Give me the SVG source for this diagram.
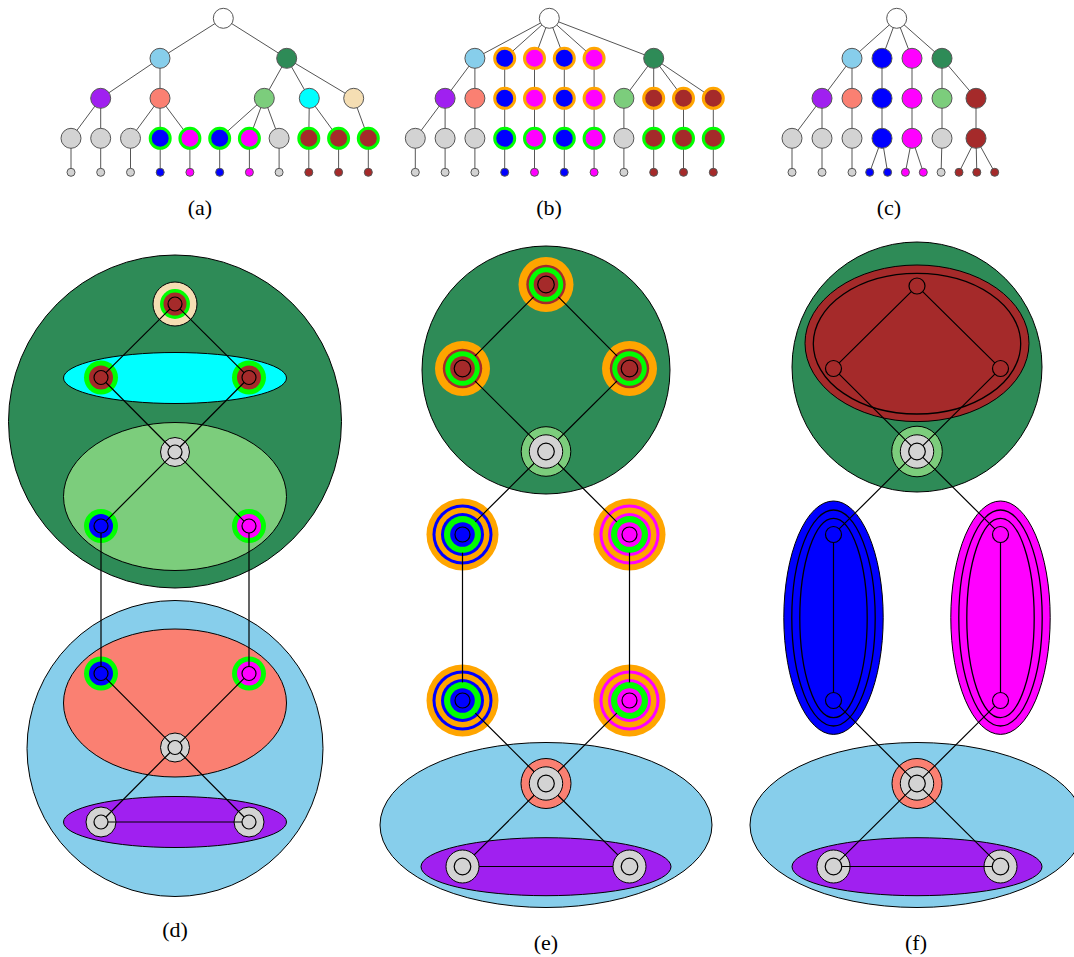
<svg xmlns="http://www.w3.org/2000/svg" width="1074" height="957" viewBox="0 0 1074 957">
<style>
.te{stroke:#555;stroke-width:1;fill:none}
.tn{stroke:#555;stroke-width:1}
.rg{stroke:#00ff00;stroke-width:3}
.ro{stroke:#ffa500;stroke-width:3}
.lb{font-family:"Liberation Serif","DejaVu Serif",serif;font-size:22px;text-anchor:middle;fill:#000}
.ed{stroke:#000;stroke-width:1.2;fill:none}
.ol{stroke:#000;stroke-width:1}
.in{stroke:#000;stroke-width:1.2}
.nf{fill:none;stroke-width:1.3}
</style>
<rect width="1074" height="957" fill="#fff"/>

<!-- ===== Tree (a) ===== -->
<g id="tree-a">
<g id="a-edges">
<path class="te" d="M223.3 18.3L160 58.3M223.3 18.3L286.7 58.3M160 58.3L100.7 98.3M160 58.3L160 98.3M100.7 98.3L71 138.3M100.7 98.3L100.7 138.3M160 98.3L130.5 138.3M160 98.3L160.2 138.3M160 98.3L189.9 138.3M286.7 58.3L264.3 98.3M286.7 58.3L309.3 98.3M286.7 58.3L353.7 98.3M264.3 98.3L219.7 138.3M264.3 98.3L249.4 138.3M264.3 98.3L279.1 138.3M309.3 98.3L308.8 138.3M309.3 98.3L338.6 138.3M353.7 98.3L368.3 138.3M71 138.3V172.3M100.7 138.3V172.3M130.5 138.3V172.3M160.2 138.3V172.3M189.9 138.3V172.3M219.7 138.3V172.3M249.4 138.3V172.3M279.1 138.3V172.3M308.8 138.3V172.3M338.6 138.3V172.3M368.3 138.3V172.3"/>
</g>
<g id="a-root"><circle class="tn" cx="223.3" cy="18.3" r="10" fill="#fff"/></g>
<g id="a-sky"><circle class="tn" cx="160" cy="58.3" r="10" fill="#87ceeb"/></g>
<g id="a-dg"><circle class="tn" cx="286.7" cy="58.3" r="10" fill="#2e8b57"/></g>
<g id="a-purple"><circle class="tn" cx="100.7" cy="98.3" r="10" fill="#a020f0"/></g>
<g id="a-salmon"><circle class="tn" cx="160" cy="98.3" r="10" fill="#fa8072"/></g>
<g id="a-lgreen"><circle class="tn" cx="264.3" cy="98.3" r="10" fill="#7ccd7c"/></g>
<g id="a-cyan"><circle class="tn" cx="309.3" cy="98.3" r="10" fill="#00ffff"/></g>
<g id="a-wheat"><circle class="tn" cx="353.7" cy="98.3" r="10" fill="#f5deb3"/></g>
<g id="a-l3-0"><circle class="tn" cx="71" cy="138.3" r="10" fill="#d3d3d3"/></g>
<g id="a-l3-1"><circle class="tn" cx="100.7" cy="138.3" r="10" fill="#d3d3d3"/></g>
<g id="a-l3-2"><circle class="tn" cx="130.5" cy="138.3" r="10" fill="#d3d3d3"/></g>
<g id="a-l3-3"><circle class="rg" cx="160.2" cy="138.3" r="10" fill="#0000ff"/></g>
<g id="a-l3-4"><circle class="rg" cx="189.9" cy="138.3" r="10" fill="#ff00ff"/></g>
<g id="a-l3-5"><circle class="rg" cx="219.7" cy="138.3" r="10" fill="#0000ff"/></g>
<g id="a-l3-6"><circle class="rg" cx="249.4" cy="138.3" r="10" fill="#ff00ff"/></g>
<g id="a-l3-7"><circle class="tn" cx="279.1" cy="138.3" r="10" fill="#d3d3d3"/></g>
<g id="a-l3-8"><circle class="rg" cx="308.8" cy="138.3" r="10" fill="#a52a2a"/></g>
<g id="a-l3-9"><circle class="rg" cx="338.6" cy="138.3" r="10" fill="#a52a2a"/></g>
<g id="a-l3-10"><circle class="rg" cx="368.3" cy="138.3" r="10" fill="#a52a2a"/></g>
<g id="a-l4-0"><circle class="tn" cx="71" cy="172.3" r="4" fill="#d3d3d3"/></g>
<g id="a-l4-1"><circle class="tn" cx="100.7" cy="172.3" r="4" fill="#d3d3d3"/></g>
<g id="a-l4-2"><circle class="tn" cx="130.5" cy="172.3" r="4" fill="#d3d3d3"/></g>
<g id="a-l4-3"><circle class="tn" cx="160.2" cy="172.3" r="4" fill="#0000ff"/></g>
<g id="a-l4-4"><circle class="tn" cx="189.9" cy="172.3" r="4" fill="#ff00ff"/></g>
<g id="a-l4-5"><circle class="tn" cx="219.7" cy="172.3" r="4" fill="#0000ff"/></g>
<g id="a-l4-6"><circle class="tn" cx="249.4" cy="172.3" r="4" fill="#ff00ff"/></g>
<g id="a-l4-7"><circle class="tn" cx="279.1" cy="172.3" r="4" fill="#d3d3d3"/></g>
<g id="a-l4-8"><circle class="tn" cx="308.8" cy="172.3" r="4" fill="#a52a2a"/></g>
<g id="a-l4-9"><circle class="tn" cx="338.6" cy="172.3" r="4" fill="#a52a2a"/></g>
<g id="a-l4-10"><circle class="tn" cx="368.3" cy="172.3" r="4" fill="#a52a2a"/></g>
</g>
<text class="lb" x="200" y="215">(a)</text>

<!-- ===== Tree (b) ===== -->
<g id="tree-b">
<g id="b-edges">
<path class="te" d="M549.3 18.3L474.9 58.3M549.3 18.3L504.7 58.3M549.3 18.3L534.5 58.3M549.3 18.3L564.3 58.3M549.3 18.3L594.1 58.3M549.3 18.3L653.7 58.3M474.9 58.3L445.1 98.3M474.9 58.3L474.9 98.3M445.1 98.3L415.3 138.3M445.1 98.3L445.1 138.3M474.9 98.3L474.9 138.3M504.7 58.3V172.3M534.5 58.3V172.3M564.3 58.3V172.3M594.1 58.3V172.3M653.7 58.3L623.9 98.3M653.7 58.3L653.7 98.3M653.7 58.3L683.5 98.3M653.7 58.3L713.3 98.3M623.9 98.3V138.3M653.7 98.3V138.3M683.5 98.3V138.3M713.3 98.3V138.3M415.3 138.3V172.3M445.1 138.3V172.3M474.9 138.3V172.3M623.9 138.3V172.3M653.7 138.3V172.3M683.5 138.3V172.3M713.3 138.3V172.3"/>
</g>
<g id="b-root"><circle class="tn" cx="549.3" cy="18.3" r="10" fill="#fff"/></g>
<g id="b-sky"><circle class="tn" cx="474.9" cy="58.3" r="10" fill="#87ceeb"/></g>
<g id="b-l1-1"><circle class="ro" cx="504.7" cy="58.3" r="10" fill="#0000ff"/></g>
<g id="b-l1-2"><circle class="ro" cx="534.5" cy="58.3" r="10" fill="#ff00ff"/></g>
<g id="b-l1-3"><circle class="ro" cx="564.3" cy="58.3" r="10" fill="#0000ff"/></g>
<g id="b-l1-4"><circle class="ro" cx="594.1" cy="58.3" r="10" fill="#ff00ff"/></g>
<g id="b-dg"><circle class="tn" cx="653.7" cy="58.3" r="10" fill="#2e8b57"/></g>
<g id="b-purple"><circle class="tn" cx="445.1" cy="98.3" r="10" fill="#a020f0"/></g>
<g id="b-salmon"><circle class="tn" cx="474.9" cy="98.3" r="10" fill="#fa8072"/></g>
<g id="b-l2-2"><circle class="ro" cx="504.7" cy="98.3" r="10" fill="#0000ff"/></g>
<g id="b-l2-3"><circle class="ro" cx="534.5" cy="98.3" r="10" fill="#ff00ff"/></g>
<g id="b-l2-4"><circle class="ro" cx="564.3" cy="98.3" r="10" fill="#0000ff"/></g>
<g id="b-l2-5"><circle class="ro" cx="594.1" cy="98.3" r="10" fill="#ff00ff"/></g>
<g id="b-lgreen"><circle class="tn" cx="623.9" cy="98.3" r="10" fill="#7ccd7c"/></g>
<g id="b-l2-7"><circle class="ro" cx="653.7" cy="98.3" r="10" fill="#a52a2a"/></g>
<g id="b-l2-8"><circle class="ro" cx="683.5" cy="98.3" r="10" fill="#a52a2a"/></g>
<g id="b-l2-9"><circle class="ro" cx="713.3" cy="98.3" r="10" fill="#a52a2a"/></g>
<g id="b-l3-0"><circle class="tn" cx="415.3" cy="138.3" r="10" fill="#d3d3d3"/></g>
<g id="b-l3-1"><circle class="tn" cx="445.1" cy="138.3" r="10" fill="#d3d3d3"/></g>
<g id="b-l3-2"><circle class="tn" cx="474.9" cy="138.3" r="10" fill="#d3d3d3"/></g>
<g id="b-l3-3"><circle class="rg" cx="504.7" cy="138.3" r="10" fill="#0000ff"/></g>
<g id="b-l3-4"><circle class="rg" cx="534.5" cy="138.3" r="10" fill="#ff00ff"/></g>
<g id="b-l3-5"><circle class="rg" cx="564.3" cy="138.3" r="10" fill="#0000ff"/></g>
<g id="b-l3-6"><circle class="rg" cx="594.1" cy="138.3" r="10" fill="#ff00ff"/></g>
<g id="b-l3-7"><circle class="tn" cx="623.9" cy="138.3" r="10" fill="#d3d3d3"/></g>
<g id="b-l3-8"><circle class="rg" cx="653.7" cy="138.3" r="10" fill="#a52a2a"/></g>
<g id="b-l3-9"><circle class="rg" cx="683.5" cy="138.3" r="10" fill="#a52a2a"/></g>
<g id="b-l3-10"><circle class="rg" cx="713.3" cy="138.3" r="10" fill="#a52a2a"/></g>
<g id="b-l4-0"><circle class="tn" cx="415.3" cy="172.3" r="4" fill="#d3d3d3"/></g>
<g id="b-l4-1"><circle class="tn" cx="445.1" cy="172.3" r="4" fill="#d3d3d3"/></g>
<g id="b-l4-2"><circle class="tn" cx="474.9" cy="172.3" r="4" fill="#d3d3d3"/></g>
<g id="b-l4-3"><circle class="tn" cx="504.7" cy="172.3" r="4" fill="#0000ff"/></g>
<g id="b-l4-4"><circle class="tn" cx="534.5" cy="172.3" r="4" fill="#ff00ff"/></g>
<g id="b-l4-5"><circle class="tn" cx="564.3" cy="172.3" r="4" fill="#0000ff"/></g>
<g id="b-l4-6"><circle class="tn" cx="594.1" cy="172.3" r="4" fill="#ff00ff"/></g>
<g id="b-l4-7"><circle class="tn" cx="623.9" cy="172.3" r="4" fill="#d3d3d3"/></g>
<g id="b-l4-8"><circle class="tn" cx="653.7" cy="172.3" r="4" fill="#a52a2a"/></g>
<g id="b-l4-9"><circle class="tn" cx="683.5" cy="172.3" r="4" fill="#a52a2a"/></g>
<g id="b-l4-10"><circle class="tn" cx="713.3" cy="172.3" r="4" fill="#a52a2a"/></g>
</g>
<text class="lb" x="549" y="215">(b)</text>

<!-- ===== Tree (c) ===== -->
<g id="tree-c">
<g id="c-edges">
<path class="te" d="M896.7 18.3L852 58.3M896.7 18.3L882 58.3M896.7 18.3L912 58.3M896.7 18.3L942 58.3M852 58.3L822 98.3M852 58.3L852 98.3M822 98.3L792 138.3M822 98.3L822 138.3M852 98.3L852 138.3M882 58.3V138.3M912 58.3V138.3M942 58.3L942 98.3M942 58.3L976 98.3M942 98.3V138.3M976 98.3V138.3M792 138.3V172.3M822 138.3V172.3M852 138.3V172.3M882 138.3L869.7 172.3M882 138.3L887.6 172.3M912 138.3L905.4 172.3M912 138.3L923.3 172.3M942 138.3L941.1 172.3M976 138.3L959 172.3M976 138.3L976.8 172.3M976 138.3L994.7 172.3"/>
</g>
<g id="c-root"><circle class="tn" cx="896.7" cy="18.3" r="10" fill="#fff"/></g>
<g id="c-sky"><circle class="tn" cx="852" cy="58.3" r="10" fill="#87ceeb"/></g>
<g id="c-blue1"><circle class="tn" cx="882" cy="58.3" r="10" fill="#0000ff"/></g>
<g id="c-mag1"><circle class="tn" cx="912" cy="58.3" r="10" fill="#ff00ff"/></g>
<g id="c-dg"><circle class="tn" cx="942" cy="58.3" r="10" fill="#2e8b57"/></g>
<g id="c-purple"><circle class="tn" cx="822" cy="98.3" r="10" fill="#a020f0"/></g>
<g id="c-salmon"><circle class="tn" cx="852" cy="98.3" r="10" fill="#fa8072"/></g>
<g id="c-blue2"><circle class="tn" cx="882" cy="98.3" r="10" fill="#0000ff"/></g>
<g id="c-mag2"><circle class="tn" cx="912" cy="98.3" r="10" fill="#ff00ff"/></g>
<g id="c-lgreen"><circle class="tn" cx="942" cy="98.3" r="10" fill="#7ccd7c"/></g>
<g id="c-brown2"><circle class="tn" cx="976" cy="98.3" r="10" fill="#a52a2a"/></g>
<g id="c-l3-0"><circle class="tn" cx="792" cy="138.3" r="10" fill="#d3d3d3"/></g>
<g id="c-l3-1"><circle class="tn" cx="822" cy="138.3" r="10" fill="#d3d3d3"/></g>
<g id="c-l3-2"><circle class="tn" cx="852" cy="138.3" r="10" fill="#d3d3d3"/></g>
<g id="c-blue3"><circle class="tn" cx="882" cy="138.3" r="10" fill="#0000ff"/></g>
<g id="c-mag3"><circle class="tn" cx="912" cy="138.3" r="10" fill="#ff00ff"/></g>
<g id="c-l3-5"><circle class="tn" cx="942" cy="138.3" r="10" fill="#d3d3d3"/></g>
<g id="c-brown3"><circle class="tn" cx="976" cy="138.3" r="10" fill="#a52a2a"/></g>
<g id="c-l4-0"><circle class="tn" cx="792" cy="172.3" r="4" fill="#d3d3d3"/></g>
<g id="c-l4-1"><circle class="tn" cx="822" cy="172.3" r="4" fill="#d3d3d3"/></g>
<g id="c-l4-2"><circle class="tn" cx="852" cy="172.3" r="4" fill="#d3d3d3"/></g>
<g id="c-l4-3"><circle class="tn" cx="869.7" cy="172.3" r="4" fill="#0000ff"/></g>
<g id="c-l4-4"><circle class="tn" cx="887.6" cy="172.3" r="4" fill="#0000ff"/></g>
<g id="c-l4-5"><circle class="tn" cx="905.4" cy="172.3" r="4" fill="#ff00ff"/></g>
<g id="c-l4-6"><circle class="tn" cx="923.3" cy="172.3" r="4" fill="#ff00ff"/></g>
<g id="c-l4-7"><circle class="tn" cx="941.1" cy="172.3" r="4" fill="#d3d3d3"/></g>
<g id="c-l4-8"><circle class="tn" cx="959" cy="172.3" r="4" fill="#a52a2a"/></g>
<g id="c-l4-9"><circle class="tn" cx="976.8" cy="172.3" r="4" fill="#a52a2a"/></g>
<g id="c-l4-10"><circle class="tn" cx="994.7" cy="172.3" r="4" fill="#a52a2a"/></g>
</g>
<text class="lb" x="889" y="215">(c)</text>

<!-- ===== Panel (d) ===== -->
<g id="panel-d">
<g id="d-regions">
<circle class="ol" cx="175" cy="421.5" r="166.5" fill="#2e8b57"/>
<ellipse class="ol" cx="175" cy="378" rx="111.5" ry="25.5" fill="#00ffff"/>
<ellipse class="ol" cx="175" cy="496.5" rx="111.5" ry="74" fill="#7ccd7c"/>
<circle class="ol" cx="175" cy="748.5" r="148" fill="#87ceeb"/>
<ellipse class="ol" cx="175" cy="703" rx="111.5" ry="74" fill="#fa8072"/>
<ellipse class="ol" cx="175" cy="822" rx="111.5" ry="25.5" fill="#a020f0"/>
</g>
<g id="d-top"><circle class="ol" cx="175" cy="304" r="22" fill="#f5deb3"/><circle cx="175" cy="304" r="15" fill="#00ff00"/><circle cx="175" cy="304" r="11.5" fill="#a52a2a"/><circle class="in" cx="175" cy="304" r="7" fill="#a52a2a"/></g>
<g id="d-cyan-l"><circle cx="101" cy="377.5" r="17" fill="#00ff00"/><circle cx="101" cy="377.5" r="12" fill="#a52a2a"/><circle class="in" cx="101" cy="377.5" r="7" fill="#a52a2a"/></g>
<g id="d-cyan-r"><circle cx="249" cy="377.5" r="17" fill="#00ff00"/><circle cx="249" cy="377.5" r="12" fill="#a52a2a"/><circle class="in" cx="249" cy="377.5" r="7" fill="#a52a2a"/></g>
<g id="d-gray1"><circle class="ol" cx="175" cy="452" r="14.5" fill="#d3d3d3"/><circle class="in" cx="175" cy="452" r="7" fill="#d3d3d3"/></g>
<g id="d-blue1"><circle cx="101" cy="526" r="17" fill="#00ff00"/><circle cx="101" cy="526" r="12" fill="#0000ff"/><circle class="in" cx="101" cy="526" r="7" fill="#0000ff"/></g>
<g id="d-mag1"><circle cx="249" cy="526" r="17" fill="#00ff00"/><circle cx="249" cy="526" r="12" fill="#ff00ff"/><circle class="in" cx="249" cy="526" r="7" fill="#ff00ff"/></g>
<g id="d-blue2"><circle cx="101" cy="673.5" r="17" fill="#00ff00"/><circle cx="101" cy="673.5" r="12" fill="#0000ff"/><circle class="in" cx="101" cy="673.5" r="7" fill="#0000ff"/></g>
<g id="d-mag2"><circle cx="249" cy="673.5" r="17" fill="#00ff00"/><circle cx="249" cy="673.5" r="12" fill="#ff00ff"/><circle class="in" cx="249" cy="673.5" r="7" fill="#ff00ff"/></g>
<g id="d-gray2"><circle class="ol" cx="175" cy="747.5" r="14.5" fill="#d3d3d3"/><circle class="in" cx="175" cy="747.5" r="7" fill="#d3d3d3"/></g>
<g id="d-gray3"><circle class="ol" cx="101" cy="822" r="15" fill="#d3d3d3"/><circle class="in" cx="101" cy="822" r="7" fill="#d3d3d3"/></g>
<g id="d-gray4"><circle class="ol" cx="249" cy="822" r="15" fill="#d3d3d3"/><circle class="in" cx="249" cy="822" r="7" fill="#d3d3d3"/></g>
<g id="d-edges">
<path class="ed" d="M170.03 308.93L105.97 372.57M179.97 308.93L244.03 372.57M105.93 382.47L170.07 447.03M244.07 382.47L179.93 447.03M170.05 456.95L105.95 521.05M179.95 456.95L244.05 521.05M101 533V666.5M249 533V666.5M105.95 678.45L170.05 742.55M244.05 678.45L179.95 742.55M170.07 752.47L105.93 817.03M179.93 752.47L244.07 817.03M108 822H242"/>
</g>
</g>
<text class="lb" x="175" y="937">(d)</text>

<!-- ===== Panel (e) ===== -->
<g id="panel-e">
<g id="e-regions">
<circle class="ol" cx="546" cy="370" r="124" fill="#2e8b57"/>
<ellipse class="ol" cx="546" cy="825" rx="166" ry="82.5" fill="#87ceeb"/>
<ellipse class="ol" cx="546" cy="866.7" rx="125" ry="29" fill="#a020f0"/>
</g>
<g id="e-top"><circle cx="546" cy="284.5" r="27.5" fill="#ffa500"/><circle cx="546" cy="284.5" r="19.7" fill="#a52a2a"/><circle cx="546" cy="284.5" r="17.3" fill="#00ff00"/><circle cx="546" cy="284.5" r="12.3" fill="#a52a2a"/><circle class="in" cx="546" cy="284.5" r="8.3" fill="#a52a2a"/></g>
<g id="e-left"><circle cx="462.5" cy="368.5" r="27.5" fill="#ffa500"/><circle cx="462.5" cy="368.5" r="19.7" fill="#a52a2a"/><circle cx="462.5" cy="368.5" r="17.3" fill="#00ff00"/><circle cx="462.5" cy="368.5" r="12.3" fill="#a52a2a"/><circle class="in" cx="462.5" cy="368.5" r="8.3" fill="#a52a2a"/></g>
<g id="e-right"><circle cx="629.5" cy="368.5" r="27.5" fill="#ffa500"/><circle cx="629.5" cy="368.5" r="19.7" fill="#a52a2a"/><circle cx="629.5" cy="368.5" r="17.3" fill="#00ff00"/><circle cx="629.5" cy="368.5" r="12.3" fill="#a52a2a"/><circle class="in" cx="629.5" cy="368.5" r="8.3" fill="#a52a2a"/></g>
<g id="e-gray1"><circle class="ol" cx="546" cy="451.5" r="24.8" fill="#7ccd7c"/><circle class="ol" cx="546" cy="451.5" r="16.7" fill="#d3d3d3"/><circle class="in" cx="546" cy="451.5" r="8.3" fill="#d3d3d3"/></g>
<g id="e-blue1"><circle cx="462.5" cy="534.5" r="36" fill="#ffa500"/><circle cx="462.5" cy="534.5" r="30" fill="#0000ff"/><circle cx="462.5" cy="534.5" r="27" fill="#ffa500"/><circle cx="462.5" cy="534.5" r="21.5" fill="#0000ff"/><circle cx="462.5" cy="534.5" r="18.5" fill="#00ff00"/><circle cx="462.5" cy="534.5" r="12.3" fill="#0000ff"/><circle class="in" cx="462.5" cy="534.5" r="7.5" fill="#0000ff"/></g>
<g id="e-mag1"><circle cx="629.5" cy="534.5" r="36" fill="#ffa500"/><circle cx="629.5" cy="534.5" r="30" fill="#ff00ff"/><circle cx="629.5" cy="534.5" r="27" fill="#ffa500"/><circle cx="629.5" cy="534.5" r="21.5" fill="#ff00ff"/><circle cx="629.5" cy="534.5" r="18.5" fill="#00ff00"/><circle cx="629.5" cy="534.5" r="12.3" fill="#ff00ff"/><circle class="in" cx="629.5" cy="534.5" r="7.5" fill="#ff00ff"/></g>
<g id="e-blue2"><circle cx="462.5" cy="700.5" r="36" fill="#ffa500"/><circle cx="462.5" cy="700.5" r="30" fill="#0000ff"/><circle cx="462.5" cy="700.5" r="27" fill="#ffa500"/><circle cx="462.5" cy="700.5" r="21.5" fill="#0000ff"/><circle cx="462.5" cy="700.5" r="18.5" fill="#00ff00"/><circle cx="462.5" cy="700.5" r="12.3" fill="#0000ff"/><circle class="in" cx="462.5" cy="700.5" r="7.5" fill="#0000ff"/></g>
<g id="e-mag2"><circle cx="629.5" cy="700.5" r="36" fill="#ffa500"/><circle cx="629.5" cy="700.5" r="30" fill="#ff00ff"/><circle cx="629.5" cy="700.5" r="27" fill="#ffa500"/><circle cx="629.5" cy="700.5" r="21.5" fill="#ff00ff"/><circle cx="629.5" cy="700.5" r="18.5" fill="#00ff00"/><circle cx="629.5" cy="700.5" r="12.3" fill="#ff00ff"/><circle class="in" cx="629.5" cy="700.5" r="7.5" fill="#ff00ff"/></g>
<g id="e-salmon"><circle class="ol" cx="546" cy="783.5" r="25" fill="#fa8072"/><circle class="ol" cx="546" cy="783.5" r="16.7" fill="#d3d3d3"/><circle class="in" cx="546" cy="783.5" r="8.3" fill="#d3d3d3"/></g>
<g id="e-gray2"><circle class="ol" cx="462.5" cy="866.5" r="16.5" fill="#d3d3d3"/><circle class="in" cx="462.5" cy="866.5" r="8.3" fill="#d3d3d3"/></g>
<g id="e-gray3"><circle class="ol" cx="629.5" cy="866.5" r="16.5" fill="#d3d3d3"/><circle class="in" cx="629.5" cy="866.5" r="8.3" fill="#d3d3d3"/></g>
<g id="e-edges">
<path class="ed" d="M533.66 296.91L474.84 356.09M558.34 296.91L617.16 356.09M474.91 380.84L534.15 439.73M617.09 380.84L557.85 439.73M534.15 463.27L475.27 521.81M557.85 463.27L616.73 521.81M462.5 552.5V682.5M629.5 552.5V682.5M475.27 713.19L534.15 771.73M616.73 713.19L557.85 771.73M534.15 795.27L474.2 854.87M557.85 795.27L617.8 854.87M479 866.5H613"/>
</g>
</g>
<text class="lb" x="546" y="950">(e)</text>

<!-- ===== Panel (f) ===== -->
<g id="panel-f">
<g id="f-regions">
<circle class="ol" cx="917" cy="367" r="125" fill="#2e8b57"/>
<ellipse class="ol" cx="917" cy="343.3" rx="112" ry="78.3" fill="#a52a2a"/>
<ellipse class="ol nf" cx="917" cy="343.7" rx="103.7" ry="70.3"/>
<ellipse class="ol" cx="833.5" cy="617.7" rx="49.7" ry="116.7" fill="#0000ff"/>
<ellipse class="ol nf" cx="833.5" cy="618" rx="41.7" ry="108"/>
<ellipse class="ol nf" cx="833.5" cy="618" rx="33.7" ry="99.7"/>
<ellipse class="ol" cx="1000.5" cy="617.7" rx="49.7" ry="116.7" fill="#ff00ff"/>
<ellipse class="ol nf" cx="1000.5" cy="618" rx="41.7" ry="108"/>
<ellipse class="ol nf" cx="1000.5" cy="618" rx="33.7" ry="99.7"/>
<ellipse class="ol" cx="917" cy="825" rx="167" ry="82.5" fill="#87ceeb"/>
<ellipse class="ol" cx="917" cy="866.7" rx="125" ry="29" fill="#a020f0"/>
</g>
<g id="f-top"><circle class="in" cx="917" cy="286" r="8" fill="#a52a2a"/></g>
<g id="f-left"><circle class="in" cx="833.5" cy="368.5" r="8" fill="#a52a2a"/></g>
<g id="f-right"><circle class="in" cx="1000.5" cy="368.5" r="8" fill="#a52a2a"/></g>
<g id="f-gray1"><circle class="ol" cx="917" cy="451.5" r="25.3" fill="#7ccd7c"/><circle class="ol" cx="917" cy="451.5" r="16.7" fill="#d3d3d3"/><circle class="in" cx="917" cy="451.5" r="8.3" fill="#d3d3d3"/></g>
<g id="f-blue1"><circle class="in" cx="833.5" cy="534.5" r="8" fill="#0000ff"/></g>
<g id="f-blue2"><circle class="in" cx="833.5" cy="700.5" r="8" fill="#0000ff"/></g>
<g id="f-mag1"><circle class="in" cx="1000.5" cy="534.5" r="8" fill="#ff00ff"/></g>
<g id="f-mag2"><circle class="in" cx="1000.5" cy="700.5" r="8" fill="#ff00ff"/></g>
<g id="f-salmon"><circle class="ol" cx="917" cy="783.5" r="25" fill="#fa8072"/><circle class="ol" cx="917" cy="783.5" r="16.7" fill="#d3d3d3"/><circle class="in" cx="917" cy="783.5" r="8.3" fill="#d3d3d3"/></g>
<g id="f-gray2"><circle class="ol" cx="833.5" cy="866.5" r="16.5" fill="#d3d3d3"/><circle class="in" cx="833.5" cy="866.5" r="8.3" fill="#d3d3d3"/></g>
<g id="f-gray3"><circle class="ol" cx="1000.5" cy="866.5" r="16.5" fill="#d3d3d3"/><circle class="in" cx="1000.5" cy="866.5" r="8.3" fill="#d3d3d3"/></g>
<g id="f-edges">
<path class="ed" d="M911.31 291.62L839.19 362.88M922.69 291.62L994.81 362.88M839.17 374.14L911.11 445.65M994.83 374.14L922.89 445.65M911.11 457.35L839.17 528.86M922.89 457.35L994.83 528.86M833.5 542.5V692.5M1000.5 542.5V692.5M839.17 706.14L911.11 777.65M994.83 706.14L922.89 777.65M911.11 789.35L839.39 860.65M922.89 789.35L994.61 860.65M841.8 866.5H992.2"/>
</g>
</g>
<text class="lb" x="916" y="950">(f)</text>
</svg>
